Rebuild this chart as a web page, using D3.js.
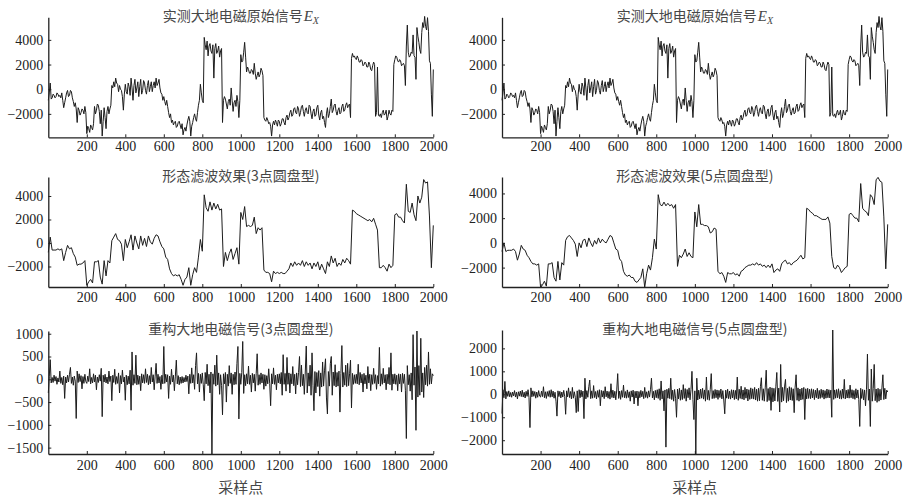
<!DOCTYPE html>
<html><head><meta charset="utf-8">
<script src="https://cdn.jsdelivr.net/npm/d3@7"></script>
<style>
html,body{margin:0;padding:0;background:#fff;}
svg{display:block;}
.tick text{font-family:"Liberation Serif","Times New Roman",serif;font-size:14px;fill:#222;}
.title{font-family:"Noto Sans CJK SC",sans-serif;font-size:14px;fill:#474747;}
</style>
</head><body>
<svg id="chart" width="913" height="499"></svg>
<script>
// ---------------- DATA ----------------
const xTicks = [200,400,600,800,1000,1200,1400,1600,1800,2000];
const yTicksSignal = [-2000,0,2000,4000];
const yTicksRes3 = [-1500,-1000,-500,0,500,1000];
const yTicksRes5 = [-2000,-1000,0,1000,2000];

const titleRaw = "实测大地电磁原始信号";
const titleF3 = "形态滤波效果(3点圆盘型)";
const titleF5 = "形态滤波效果(5点圆盘型)";
const titleR3 = "重构大地电磁信号(3点圆盘型)";
const titleR5 = "重构大地电磁信号(5点圆盘型)";
const xLabel = "采样点";

// raw Ex, one value every 5 samples
const rawStep = 5;
const rawEx = [
-900,-300,500,-800,-700,-400,-500,-700,-600,-300,-400,-600,-500,-700,-300,-900,-1500,-1100,-700,-300,
-100,-600,-500,-100,-200,-700,-1000,-1400,-1100,-1600,-2700,-1500,-1700,-2100,-1900,-1600,-1700,-2000,-1400,-1900,
-3600,-3000,-3200,-3500,-2900,-3100,-3300,-2800,-1400,-2000,-1700,-1200,-1300,-1800,-2800,-1700,-3800,-2600,-1500,-2300,
-3200,-1800,-1400,-2000,-1600,-1300,300,100,600,200,900,500,400,-200,300,0,-100,-600,-1700,-400,
400,-200,-400,500,200,-500,900,100,-900,300,800,-300,100,600,-600,200,800,-400,-100,700,
500,-100,-400,300,700,-200,200,600,-200,300,600,100,900,300,500,800,100,-300,-400,-900,
-600,-1000,-1300,-900,-1400,-1900,-2300,-2000,-2700,-2500,-2900,-2700,-2600,-3100,-3000,-2700,-2600,-2900,-3200,-2800,
-3700,-3300,-3100,-3400,-2900,-2500,-2200,-2600,-3800,-3000,-2700,-2300,-2000,-2400,-2600,-1900,-1300,-900,400,-300,
-900,-1100,4200,3600,3200,3900,2700,3500,3700,3100,2900,3600,900,3300,3700,2900,3100,3500,2600,3100,
3300,-2700,-900,-600,-800,-1200,-1600,-1000,-800,-1300,100,-900,-1800,-1100,-900,-1400,-500,-1000,-2300,-900,
2800,2200,2300,3000,3800,2600,1400,1800,1600,1300,1300,1600,1500,1200,2100,1300,800,1100,1400,1000,
1200,1700,1500,1100,-2300,-2500,-2600,-2300,-2500,-2800,-2700,-3000,-3800,-2900,-2600,-2900,-2500,-2700,-3000,-2500,
-2600,-3000,-2800,-2400,-2400,-2700,-2900,-2300,-2100,-2500,-2300,-1900,-1700,-2200,-2100,-1600,-1500,-1900,-2000,-1400,
-1600,-2200,-1900,-1400,-1300,-1800,-2200,-1700,-1500,-1900,-2000,-1300,-1400,-2000,-2400,-1800,-1600,-2200,-2100,-1500,
-1300,-2100,-2500,-1900,-1700,-2400,-2200,-2700,-3100,-2000,-1500,-2300,-2000,-1400,-800,-1900,-1700,-1300,-1200,-1800,
-2100,-1700,-1500,-2000,-1900,-1400,-1200,-1800,-1700,-1300,-1100,-1500,-1300,-1200,-2300,2500,2900,2600,2700,2500,
2400,2700,2500,2200,2200,2400,2300,1900,2000,2200,2100,1800,1800,2200,2000,1600,1500,1900,2200,2000,
-2200,-1900,1800,-2100,-2200,-2000,-2300,-1900,-1700,-2100,-2000,-1700,-2500,-2200,-1700,-2000,-2100,-1700,-1800,2000,
2400,2700,2600,2300,2200,2400,2300,1900,2000,2100,1900,300,3500,5200,3000,2600,2700,3000,2900,4400,
2700,2600,800,5000,4300,3800,3200,2900,4600,5400,5000,5900,5100,4800,5800,4700,2300,2100,-400,-2200,
1600];

// morphological filter, 3-point disc, every 10 samples
const filtStep = 10;
const filt3 = [
-800,500,-600,-600,-600,-500,-600,-500,-1500,-800,
-200,-500,-400,-900,-1200,-1900,-1800,-1800,-1700,-1500,
-3600,-3300,-3100,-3400,-1600,-1600,-1500,-2900,-3500,-1500,
-2800,-1500,-1700,200,500,800,300,200,-100,-1500,
300,-400,100,700,-600,600,0,-500,600,-200,
400,-300,600,100,-100,400,700,600,100,-300,
-500,-1200,-1400,-2200,-2600,-2800,-2700,-2800,-2700,-3100,
-3600,-3100,-2900,-2100,-3600,-2700,-2100,-2500,-1200,300,
-700,4100,3000,2700,3500,2800,3400,2900,3300,2800,
2900,-2000,-800,-1500,-900,-500,-1400,-900,-400,-1800,
2600,2000,3100,1400,1500,1400,1500,2200,800,1300,
1100,1300,-2300,-2500,-2500,-2600,-3300,-2400,-2600,-2500,
-2600,-2500,-2600,-2600,-2400,-2200,-1700,-2000,-1600,-1900,
-1700,-1900,-1500,-2000,-1600,-1900,-1700,-2200,-1700,-2000,
-1600,-2300,-1800,-2200,-2600,-1600,-2000,-1100,-1700,-1300,
-2000,-1700,-1900,-1400,-1700,-1300,-1500,-1800,2800,2700,
2500,2400,2300,2200,2100,2000,1900,2000,1800,2100,
1600,1100,-2100,-2100,-1900,-2100,-2400,-1800,-2100,-1900,
2400,2500,2200,2200,1900,1700,5000,2700,2600,3400,
2400,1900,4000,3400,3900,5400,5100,5200,2300,-2100,
1500];

// morphological filter, 5-point disc, every 10 samples
const filt5 = [
-700,0,-700,-600,-600,-600,-500,-700,-1400,-900,
-200,-500,-600,-1000,-1200,-1500,-1700,-1700,-1800,-1700,
-3600,-3400,-3100,-3500,-1700,-1700,-1600,-2800,-3100,-1500,
-3000,-1600,-1800,200,500,600,400,200,-100,-1100,
0,-400,200,300,-300,400,0,-300,200,-100,
400,0,300,100,0,300,600,500,0,-500,
-600,-1300,-1500,-2300,-2600,-2700,-2600,-2800,-2800,-3100,
-3200,-3000,-2800,-2100,-3600,-2500,-1800,-2200,-1200,300,
-500,3900,3100,3000,3300,3000,3200,3000,3100,2800,
3100,-1900,-1000,-1200,-900,-500,-1100,-800,-1100,-1200,
2500,1300,3100,1500,1500,1400,1400,1300,800,900,
1200,1100,-2300,-2500,-2400,-2700,-3200,-2400,-2500,-2500,
-2400,-2600,-2500,-2700,-2300,-2200,-2000,-1900,-1800,-1800,
-1700,-1800,-1600,-1800,-1700,-1900,-1800,-2000,-1800,-2000,
-1700,-2400,-2200,-2100,-2300,-1700,-1500,-1400,-1700,-1600,
-1800,-1600,-1500,-1400,-1200,-1000,-1300,-1200,2800,2700,
2500,2400,2200,2200,2100,2000,1900,1900,1900,2100,
1600,-1100,-2000,-2100,-1800,-2000,-2400,-2200,-2000,-1900,
2300,2400,2200,2000,2000,1700,4800,2800,2600,2500,
2200,3900,3700,3100,5100,5300,5000,4900,2100,-2100,
1500];

// reconstructed (residual) signals, one value every 5 samples
const resStep = 5;
const recon3 = [
-300,60,430,-80,40,-70,90,-40,60,-110,30,-60,180,-90,40,-120,70,-420,50,-80,
90,-60,110,260,-90,50,-130,70,-40,-860,180,-70,120,-50,80,-210,60,-90,110,-50,
-90,70,-50,230,-100,40,-80,120,-60,90,-230,50,-70,100,-40,240,-820,90,-60,110,
-80,50,-100,180,-50,70,-470,90,-70,220,-110,60,-90,140,-300,80,-100,200,-60,50,
-460,90,-120,70,-100,200,-680,600,-130,100,-90,530,-120,90,-110,70,-250,120,-80,100,
-90,230,-70,110,-120,80,-100,260,-60,100,-230,70,350,-90,110,-80,60,-220,90,-100,
720,-90,110,-60,100,-420,70,-110,220,-60,90,-250,70,420,-100,80,-120,50,-90,60,
-80,40,-60,90,-50,70,-320,110,-90,250,-80,100,-220,300,580,-100,130,-280,110,-90,
140,-120,-470,150,-100,330,-140,110,-300,160,-1640,120,-110,310,-150,530,-120,140,-330,100,
-140,-780,120,-100,150,-500,110,-150,300,-90,140,-330,110,-120,160,-110,350,720,-870,130,
-110,150,830,-310,100,-140,120,-100,290,-110,90,-280,130,-80,110,-260,120,560,-130,100,
-110,140,-80,110,-220,100,-150,80,-100,230,-90,-580,120,-100,250,-110,90,-230,110,-80,
120,-100,150,-350,540,-110,130,-260,480,-110,140,-300,120,-100,280,-140,110,-320,140,-120,
150,500,-160,310,-140,110,-330,160,730,-300,140,-150,310,-350,580,-130,-690,170,-300,150,
-160,190,-370,140,-170,380,-150,200,450,-410,-760,170,-150,340,500,-350,160,-140,320,-170,
150,-150,180,-720,130,740,-170,150,-130,310,-160,350,-140,120,420,-630,130,-110,100,-90,
110,-100,330,-120,150,-80,110,-280,130,-100,90,-210,280,-80,110,-250,100,-110,240,-90,
100,-220,80,-100,700,-150,120,-110,240,-80,100,-230,110,-100,260,-120,580,-240,110,-100,
120,-110,90,-250,120,-100,110,-280,130,-90,110,-240,-1300,300,-120,100,-260,140,-450,980,
-130,270,-1120,1060,-390,300,-350,900,-280,140,-400,260,-120,310,-150,600,-110,230,-100,120,
80];

const recon5 = [
-840,200,-150,560,-200,120,-90,150,-110,80,-130,100,-70,160,-120,90,-200,110,-80,140,
-100,180,-120,90,-160,130,-90,200,-140,-1450,280,-110,150,-90,120,-170,100,-130,160,-80,
-120,140,-100,330,-150,110,-180,120,-90,160,-130,200,-110,140,-170,90,-300,-950,150,-100,
130,-160,100,-120,170,-90,-870,150,-110,280,-140,120,-200,300,-170,110,-130,-800,150,-750,
200,-150,180,-110,140,-1060,700,-200,160,-130,330,620,-190,150,-170,380,-140,120,-200,160,
-130,200,-500,170,-120,150,-190,330,-110,140,-170,120,-210,460,-140,180,-160,130,-240,190,
900,-180,140,-220,160,-130,400,-150,120,-170,190,-140,110,-300,150,-120,180,-420,130,-160,
140,-500,120,-150,170,-110,130,-190,300,-140,110,-170,150,-120,200,700,-160,130,-240,170,
-150,200,-180,240,-260,580,-200,150,-720,190,-2300,220,-170,260,-190,700,-230,180,-300,210,
-170,-1000,230,-200,260,-260,190,-230,420,-180,250,-300,210,-150,280,-240,200,1000,-220,-1100,
150,-2600,700,-250,180,-200,230,-170,260,-210,190,-300,750,-230,170,-260,220,900,-190,160,
-180,210,-150,190,-220,170,-140,230,-200,160,-250,-850,180,-170,220,-190,140,-210,200,-160,
190,-230,170,-200,750,-260,220,-180,350,-210,190,-240,300,-170,230,-290,200,-220,280,-190,
240,-210,300,-250,220,-300,260,-280,330,720,-260,240,-300,280,1050,-320,250,-270,310,-700,
280,-330,260,-290,350,950,-310,270,-770,1300,-340,300,-280,320,650,-360,260,-300,330,-250,
290,-270,240,-800,310,850,-260,280,-300,230,-250,270,-220,300,-1100,240,-200,260,-180,220,
-190,240,-160,210,-230,180,-150,260,-200,170,-180,220,-140,190,-210,160,-170,230,-150,200,
-160,180,-1000,2800,-220,190,-170,210,-150,240,-190,160,-210,230,-170,650,-200,180,-160,210,
-170,400,-150,200,-190,170,-220,240,-160,190,-230,-1400,260,-180,210,-250,190,-500,220,1750,
-260,230,-1400,1100,-300,250,1300,-280,230,-350,260,-300,220,-250,280,850,-230,260,-200,180,
100];

// ---------------- LAYOUT ----------------
const svg = d3.select("#chart");
const colX = [[48.3, 433.3], [502, 887.7]];

const panels = [
  {col:0, y:[137.3,17.3], dom:[-3900,5830], data:rawEx, step:rawStep, yt:yTicksSignal, title:titleRaw, sub:true, tY:20.5, lblY:151.5},
  {col:1, y:[137.3,17.3], dom:[-3900,5830], data:rawEx, step:rawStep, yt:yTicksSignal, title:titleRaw, sub:true, tY:20.5, lblY:151.5},
  {col:0, y:[287,177], dom:[-3745,5617], data:filt3, step:filtStep, yt:yTicksSignal, title:titleF3, tY:180.5, lblY:302},
  {col:1, y:[287,177], dom:[-3570,5330], data:filt5, step:filtStep, yt:yTicksSignal, title:titleF5, tY:180.5, lblY:302},
  {col:0, y:[454,331], dom:[-1640,1060], data:recon3, step:resStep, yt:yTicksRes3, title:titleR3, tY:334, lblY:470, xl:true},
  {col:1, y:[454,330], dom:[-2600,2800], data:recon5, step:resStep, yt:yTicksRes5, title:titleR5, tY:334, lblY:470, xl:true}
];

panels.forEach(p => {
  const x = d3.scaleLinear().domain([0,2000]).range(colX[p.col]);
  const y = d3.scaleLinear().domain(p.dom).range(p.y);
  const g = svg.append("g");

  const line = d3.line().x((d,i) => x(i*p.step)).y(d => y(d));
  g.append("path").datum(p.data)
    .attr("d", line).attr("fill","none")
    .attr("stroke","#1c1c1c").attr("stroke-width",1).attr("stroke-linejoin","miter");

  const xa = g.append("g").attr("transform",`translate(0,${p.y[0]})`)
    .call(d3.axisBottom(x).tickValues(xTicks).tickFormat(d3.format("d"))
      .tickSizeInner(-3).tickSizeOuter(0).tickPadding(4));
  xa.selectAll("text").attr("dy",null).attr("y", p.lblY - p.y[0]);

  const ya = g.append("g").attr("transform",`translate(${colX[p.col][0]},0)`)
    .call(d3.axisLeft(y).tickValues(p.yt).tickFormat(d3.format("d"))
      .tickSizeInner(-3).tickSizeOuter(0).tickPadding(5));

  [xa, ya].forEach(a => {
    a.select(".domain").attr("stroke","#222").attr("stroke-width",1.3);
    a.selectAll(".tick line").attr("stroke","#222");
  });

  const cx = (colX[p.col][0] + colX[p.col][1]) / 2;
  const t = g.append("text").attr("class","title")
    .attr("x", cx).attr("y", p.tY).attr("text-anchor","middle").text(p.title);
  if (p.sub) {
    t.append("tspan").attr("font-family","Liberation Serif").attr("font-style","italic")
      .attr("font-size","15px").attr("dx","1").text("E");
    t.append("tspan").attr("font-family","Liberation Serif").attr("font-style","italic")
      .attr("font-size","10px").attr("dy","3").text("X");
  }
  if (p.xl) {
    g.append("text").attr("class","title").style("font-size","15px")
      .attr("x", cx).attr("y", 493).attr("text-anchor","middle").text(xLabel);
  }
});
</script>
</body></html>
